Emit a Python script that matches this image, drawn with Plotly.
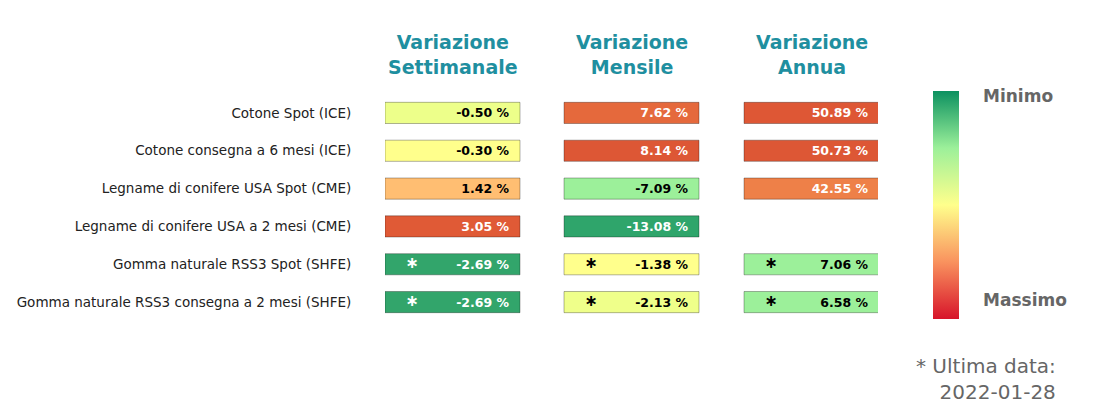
import plotly.graph_objects as go

# righe della tabella (prodotti)
ROWS = [
    "Cotone Spot (ICE)",
    "Cotone consegna a 6 mesi (ICE)",
    "Legname di conifere USA Spot (CME)",
    "Legname di conifere USA a 2 mesi (CME)",
    "Gomma naturale RSS3 Spot (SHFE)",
    "Gomma naturale RSS3 consegna a 2 mesi (SHFE)",
]
HEADERS = ["Variazione<br>Settimanale", "Variazione<br>Mensile", "Variazione<br>Annua"]

# valori in % (None = dato mancante)
SETTIMANALE = [-0.50, -0.30, 1.42, 3.05, -2.69, -2.69]
MENSILE = [7.62, 8.14, -7.09, -13.08, -1.38, -2.13]
ANNUA = [50.89, 50.73, 42.55, None, 7.06, 6.58]

# colori delle celle
COL_SETT = ["#edff8a", "#ffff8c", "#ffbe72", "#e05a36", "#32a56b", "#32a56b"]
COL_MENS = ["#e5693c", "#dd5735", "#9cf09a", "#2fa56b", "#ffff8c", "#efff8a"]
COL_ANNU = ["#de5735", "#dd5735", "#ee8048", "#ffffff", "#9cf09a", "#9cf09a"]

# asterisco = ultima data disponibile diversa
STELLA = [False, False, False, False, True, True]

DARK = {"#e05a36", "#32a56b", "#e5693c", "#dd5735", "#2fa56b", "#de5735", "#ee8048"}

W, H = 1119, 404
X0 = [377, 556, 736]   # inizio colonne (px)
BW = 135               # larghezza cella
PH = 227               # altezza area del grafico
PW = 493


def px(x):
    return (x - 377) / PW


def py(y):
    return (313 - y) / PH


fig = go.Figure()
for x0, vals, cols in zip(X0, [SETTIMANALE, MENSILE, ANNUA], [COL_SETT, COL_MENS, COL_ANNU]):
    keep = [i for i, v in enumerate(vals) if v is not None]
    fig.add_trace(go.Bar(
        y=[ROWS[i] for i in keep],
        x=[BW] * len(keep),
        base=x0,
        orientation="h",
        width=0.56,
        marker=dict(color=[cols[i] for i in keep],
                    line=dict(color="rgba(0,0,0,0.3)", width=1)),
        text=[f"<b>{vals[i]:.2f} %</b>&nbsp;&nbsp;" for i in keep],
        textposition="inside",
        insidetextanchor="end",
        insidetextfont=dict(size=12.5, family="DejaVu Sans",
                            color=["white" if cols[i] in DARK else "black" for i in keep]),
        hoverinfo="skip",
        showlegend=False,
    ))
    stars = [i for i in range(len(ROWS)) if STELLA[i] and vals[i] is not None]
    fig.add_trace(go.Scatter(
        y=[ROWS[i] for i in stars], x=[x0 + 27] * len(stars),
        mode="text", text=["<b>∗</b>"] * len(stars),
        textfont=dict(size=16, color="white" if x0 == 377 else "black"),
        showlegend=False, hoverinfo="skip",
    ))

# barra dei colori
fig.add_trace(go.Scatter(
    x=[None], y=[None], mode="markers", showlegend=False,
    marker=dict(
        color=[0, 1], cmin=0, cmax=1,
        colorscale=[[0, "#d7142a"], [0.25, "#f9925e"], [0.5, "#ffff8c"],
                    [0.75, "#9cf09a"], [1, "#0c9160"]],
        colorbar=dict(x=px(925), xanchor="left", xpad=0, ypad=0,
                      y=py(197), yanchor="middle", len=228 / PH, lenmode="fraction",
                      thickness=26, outlinewidth=0, showticklabels=False, ticks=""),
    ),
))

ann = []
for x0, h in zip(X0, HEADERS):
    ann.append(dict(xref="x", yref="paper", x=x0 + BW / 2, y=py(72), yanchor="bottom",
                    text=f"<b>{h}</b>", showarrow=False,
                    font=dict(size=19, color="#1f8fa0", family="DejaVu Sans")))
ann += [
    dict(xref="paper", yref="paper", x=px(973), y=py(76), xanchor="left",
         text="<b>Minimo</b>", showarrow=False, font=dict(size=17, color="#666")),
    dict(xref="paper", yref="paper", x=px(973), y=py(304), xanchor="left",
         text="<b>Massimo</b>", showarrow=False, font=dict(size=17, color="#666")),
    dict(xref="paper", yref="paper", x=px(1050), y=py(344), xanchor="right",
         yanchor="top", align="right", text="* Ultima data:<br>2022-01-28",
         showarrow=False, font=dict(size=20, color="#666")),
]

fig.update_layout(
    width=W, height=H,
    margin=dict(l=377, r=W - 870, t=86, b=91, autoexpand=False),
    plot_bgcolor="white", paper_bgcolor="white",
    font=dict(family="DejaVu Sans", size=13, color="#222"),
    xaxis=dict(range=[377, 870], visible=False, fixedrange=True),
    yaxis=dict(categoryorder="array", categoryarray=ROWS, autorange="reversed",
               showgrid=False, zeroline=False, ticks="outside", ticklen=30,
               tickcolor="white", tickfont=dict(size=13.5)),
    barmode="overlay",
    annotations=ann,
)
fig.write_html("out.html")
